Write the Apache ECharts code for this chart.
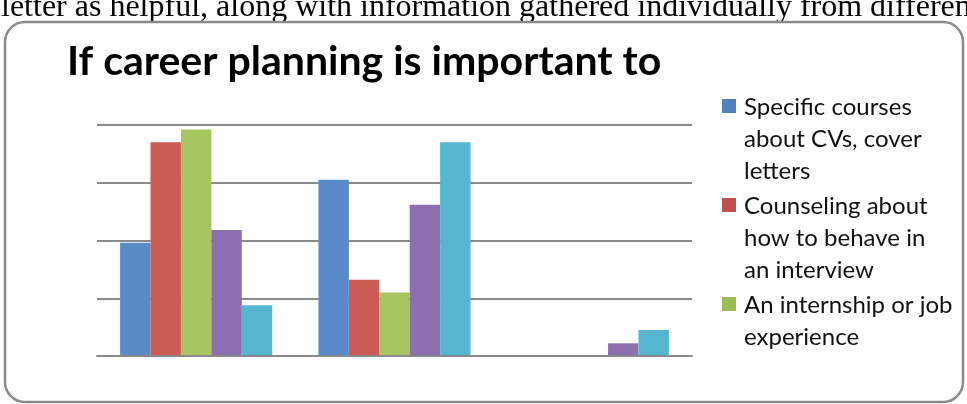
<!DOCTYPE html>
<html>
<head>
<meta charset="utf-8">
<script src="https://cdn.jsdelivr.net/npm/echarts@6/dist/echarts.min.js"></script>
<style>
  html, body { margin: 0; padding: 0; background: #fff; }
  #chart { width: 967px; height: 404px; }
</style>
</head>
<body>
<div id="chart"></div>
<script>
  // values (no axis labels, so units are arbitrary: 0..40)
  var categories = ['Group 1', 'Group 2', 'Group 3'];
  var seriesNames = [
    'Specific courses about CVs, cover letters',
    'Counseling about how to behave in an interview',
    'An internship or job experience',
    'Series 4',
    'Series 5'
  ];
  // how the legend wraps each name (last one padded to 3 lines so all items line up the same)
  var legendLabels = [
    'Specific courses\nabout CVs, cover\nletters',
    'Counseling about\nhow to behave in\nan interview',
    'An internship or job\nexperience\n '
  ];
  var coursesCV = [19.6, 30.5, 0];
  var counseling = [37.0, 13.2, 0];
  var internship = [39.2, 11.0, 0];
  var series4 = [21.8, 26.2, 2.2];
  var series5 = [8.8, 37.0, 4.5];
  var seriesValues = [coursesCV, counseling, internship, series4, series5];

  var barColors = ['#5a8ac7', '#cc5a55', '#a6c560', '#8b6fae', '#56b6d2'];
  var legendColors = ['#4f81bd', '#c0504d', '#9bbb59'];

  var chart = echarts.init(document.getElementById('chart'));

  // legend text is centred on the icon, so the swatch sits at the top of a tall empty box
  // to line up with the first text line
  var swatch = 'path://M0,0L14,0L14,14L0,14Z M17,80L17,80';

  chart.setOption({
    animation: false,
    title: {
      text: 'If career planning is important to',
      left: 62,
      top: 36,
      textStyle: {
        fontFamily: 'Lato',
        fontWeight: 'bold',
        fontSize: 41,
        color: '#000'
      }
    },
    legend: {
      orient: 'vertical',
      left: 717,
      top: 86,
      itemWidth: 17,
      itemHeight: 80,
      itemGap: 3,
      icon: swatch,
      selectedMode: false,
      data: legendLabels.map(function (l, i) {
        return { name: seriesNames[i], itemStyle: { color: legendColors[i] } };
      }),
      formatter: function (name) {
        return legendLabels[seriesNames.indexOf(name)];
      },
      textStyle: {
        fontFamily: 'Lato',
        fontSize: 24,
        lineHeight: 32,
        color: '#111'
      }
    },
    grid: {
      left: 97,
      right: 275,
      top: 125,
      bottom: 48
    },
    xAxis: {
      type: 'category',
      data: categories,
      axisTick: { show: false },
      axisLabel: { show: false },
      axisLine: { lineStyle: { color: '#8a8a8a', width: 2 } },
      z: 10
    },
    yAxis: {
      type: 'value',
      min: 0,
      max: 40,
      interval: 10,
      axisLabel: { show: false },
      axisLine: { show: false },
      axisTick: { show: false },
      splitLine: { lineStyle: { color: '#8a8a8a', width: 2 } }
    },
    series: seriesValues.map(function (vals, i) {
      return {
        name: seriesNames[i],
        type: 'bar',
        barGap: '0%',
        barCategoryGap: '23.3%',
        itemStyle: { color: barColors[i] },
        data: vals
      };
    }),
    graphic: [
      {
        // the line of body text above the chart, cut by the top edge
        type: 'text',
        left: 1,
        top: -8,
        style: {
          text: 'letter as helpful, along with information gathered individually from different',
          font: '32px "Liberation Serif"',
          fill: '#000'
        }
      },
      {
        // rounded frame round the chart
        type: 'rect',
        shape: { x: 5, y: 22, width: 958, height: 380, r: 20 },
        style: { fill: 'none', stroke: '#8a8a8a', lineWidth: 2.5 },
        silent: true
      }
    ]
  });
</script>
</body>
</html>
